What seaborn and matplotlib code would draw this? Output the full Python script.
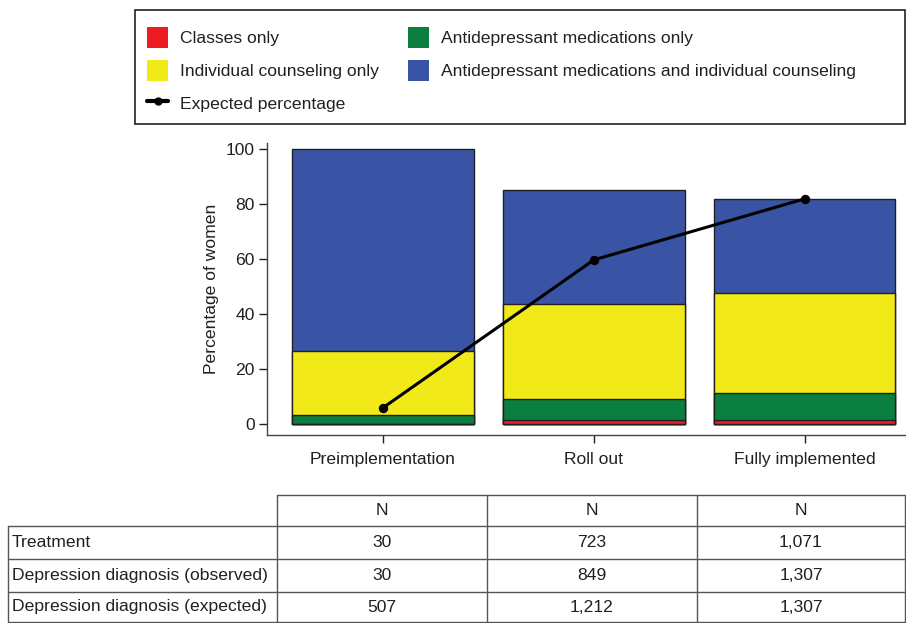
import numpy as np
import pandas as pd
import matplotlib
matplotlib.use("Agg")
import matplotlib.pyplot as plt
import seaborn as sns
from matplotlib.patches import Patch, Rectangle
from matplotlib.lines import Line2D

# ---- data ----
phases = ["Preimplementation", "Roll out", "Fully implemented"]
classes_only = [0.0, 1.4, 1.4]
meds_only = [3.3, 7.8, 9.9]
counseling_only = [23.3, 34.4, 36.3]
meds_and_counseling = [73.4, 41.6, 34.3]
expected_pct = [5.9, 59.7, 81.9]

series_names = ["Classes only", "Antidepressant medications only",
                "Individual counseling only",
                "Antidepressant medications and individual counseling"]
series_colors = ["#ED1C24", "#0B7F3F", "#F2EA18", "#3953A5"]
line_label = "Expected percentage"

table_header = ["N", "N", "N"]
table_rows = ["Treatment", "Depression diagnosis (observed)", "Depression diagnosis (expected)"]
table_values = [["30", "723", "1,071"],
                ["30", "849", "1,307"],
                ["507", "1,212", "1,307"]]

# ---- style ----
sns.set_style("ticks")
plt.rcParams["font.family"] = ["Liberation Sans", "DejaVu Sans"]
txt_color = "#231F20"
FS = 12.6

fig = plt.figure(figsize=(9.06, 6.23), dpi=100)
W, H = 906, 623
ax = fig.add_axes([267 / W, 1 - 435 / H, (906 - 267) / W, (435 - 143) / H])

stack = np.cumsum(np.array([classes_only, meds_only, counseling_only, meds_and_counseling]), axis=0)
# draw tallest first so lower segments overlay
for i in range(3, -1, -1):
    df = pd.DataFrame({"phase": phases, "value": stack[i]})
    sns.barplot(data=df, x="phase", y="value", order=phases, color=series_colors[i],
                width=0.86, edgecolor="#231F20", linewidth=1.0, saturation=1, ax=ax,
                errorbar=None)

sns.lineplot(x=np.arange(len(phases)), y=expected_pct, color="black", linewidth=2.2,
             marker="o", markersize=6, markeredgecolor="black", sort=False, ax=ax)

ax.set_xlim(-0.55, 2.48)
ax.set_ylim(-4, 102.2)
ax.set_yticks([0, 20, 40, 60, 80, 100])
ax.set_xlabel("")
ax.set_ylabel("Percentage of women", fontsize=FS, color=txt_color, labelpad=5)
ax.tick_params(axis="both", labelsize=FS, colors=txt_color, length=6, width=1, direction="out")
ax.tick_params(axis="x", pad=6)
ax.tick_params(axis="y", pad=3)
for s in ["top", "right"]:
    ax.spines[s].set_visible(False)
for s in ["left", "bottom"]:
    ax.spines[s].set_color("#444444")
    ax.spines[s].set_linewidth(1.0)

# ---- legend ----
order = [0, 2, None, 1, 3]
handles, labels = [], []
for idx in order:
    if idx is None:
        handles.append(Line2D([0], [0], color="black", lw=3, marker="o", markersize=5))
        labels.append(line_label)
    else:
        handles.append(Patch(facecolor=series_colors[idx], edgecolor="none"))
        labels.append(series_names[idx])
fig.add_artist(Rectangle((135 / W, 1 - 124 / H), (905 - 135) / W, (124 - 10) / H,
                         transform=fig.transFigure, fill=False, edgecolor="#231F20", lw=1.2))
fig.legend(handles, labels, loc="upper left", bbox_to_anchor=(147 / W, 1 - 27 / H),
           ncol=2, frameon=False, fontsize=FS, handlelength=1.2, handleheight=1.47,
           handletextpad=0.69, labelspacing=0.69, columnspacing=1.65, borderpad=0,
           borderaxespad=0, labelcolor=txt_color)

# ---- table ----
tax = fig.add_axes([0, 0, 1, 1])
tax.set_xlim(0, W)
tax.set_ylim(H, 0)
tax.axis("off")
col_x = [8, 277, 487, 697, 905]
row_y = [495, 526, 559, 592, 622]
lc = "#555555"
tax.plot([277, 905], [row_y[0], row_y[0]], color=lc, lw=1)
for y in row_y[1:]:
    tax.plot([8, 905], [y, y], color=lc, lw=1)
tax.plot([8, 8], [row_y[1], row_y[-1]], color=lc, lw=1)
for x in col_x[1:]:
    tax.plot([x, x], [row_y[0], row_y[-1]], color=lc, lw=1)
for j, h in enumerate(table_header):
    tax.text((col_x[j + 1] + col_x[j + 2]) / 2, (row_y[0] + row_y[1]) / 2, h,
             ha="center", va="center", fontsize=FS, color=txt_color)
for i, rname in enumerate(table_rows):
    yc = (row_y[i + 1] + row_y[i + 2]) / 2
    tax.text(12, yc, rname, ha="left", va="center", fontsize=FS, color=txt_color)
    for j, v in enumerate(table_values[i]):
        tax.text((col_x[j + 1] + col_x[j + 2]) / 2, yc, v, ha="center", va="center",
                 fontsize=FS, color=txt_color)

fig.savefig("out.png", dpi=100)
